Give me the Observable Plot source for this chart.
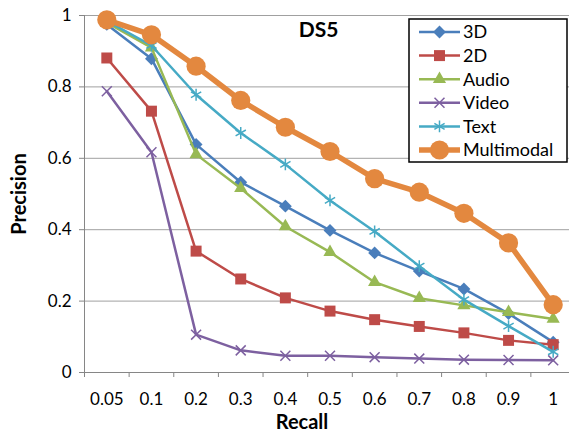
<!DOCTYPE html>
<html><head><meta charset="utf-8">
<script src="https://cdn.jsdelivr.net/npm/d3@7"></script>
<script src="https://cdn.jsdelivr.net/npm/@observablehq/plot@0.6"></script>
<style>
body{margin:0;background:#fff;overflow:hidden}
svg{font-family:Lato,"Open Sans",sans-serif}
</style>
</head><body><div id="chart"></div>
<script>
// ---- data ----
const recall = ["0.05","0.1","0.2","0.3","0.4","0.5","0.6","0.7","0.8","0.9","1"];
const yTicks = [0, 0.2, 0.4, 0.6, 0.8, 1];
const yTickLabels = ["0","0.2","0.4","0.6","0.8","1"];
const seriesNames = ["3D","2D","Audio","Video","Text","Multimodal"];
const p3D        = [0.975, 0.879, 0.639, 0.533, 0.466, 0.398, 0.335, 0.284, 0.234, 0.165, 0.085];
const p2D        = [0.881, 0.732, 0.340, 0.262, 0.209, 0.172, 0.148, 0.129, 0.111, 0.090, 0.078];
const pAudio     = [0.980, 0.910, 0.611, 0.516, 0.409, 0.337, 0.253, 0.208, 0.188, 0.169, 0.150];
const pVideo     = [0.788, 0.617, 0.106, 0.062, 0.047, 0.047, 0.043, 0.039, 0.036, 0.035, 0.034];
const pText      = [0.985, 0.916, 0.778, 0.671, 0.583, 0.482, 0.395, 0.298, 0.204, 0.130, 0.058];
const pMulti     = [0.988, 0.946, 0.858, 0.762, 0.687, 0.619, 0.543, 0.505, 0.446, 0.363, 0.190];

const seriesValues = [p3D, p2D, pAudio, pVideo, pText, pMulti];
const colors  = ["#4A7EBB", "#BE4B48", "#98B954", "#7D60A0", "#46AAC5", "#E3883F"];
const symbols = ["diamond2", "square", "triangle", "times", "asterisk", "circle"];
const d3Symbols = [d3.symbolDiamond2, d3.symbolSquare, d3.symbolTriangle, d3.symbolTimes, d3.symbolAsterisk, d3.symbolCircle];
const strokeSym = [false, false, false, true, true, false];
const radii   = [5.8, 6.2, 4.9, 4.6, 5.6, 9.6];
const widths  = [2.5, 2.5, 2.5, 2.5, 2.5, 5.5];

const rows = seriesNames.map((name, s) =>
  recall.map((r, i) => ({series: name, i, recall: r, precision: seriesValues[s][i]})));

const marks = [
  Plot.ruleY(yTicks.slice(1), {stroke: "#a0a0a0", strokeWidth: 1}),
  Plot.ruleX([-0.5], {y1: 0, y2: 1, stroke: "#868686", strokeWidth: 1}),
  Plot.ruleY([0], {stroke: "#868686", strokeWidth: 1}),
  Plot.axisX(d3.range(-0.5, 11, 1), {tickSize: 5, tickFormat: () => "", stroke: "#868686", label: null}),
  Plot.axisX(d3.range(0, 11), {tickSize: 0, tickPadding: 20, tickFormat: i => recall[i], fontSize: 17, fill: "#000", label: null}),
  Plot.axisY(yTicks, {tickSize: 5, tickPadding: 8, tickFormat: (d, i) => yTickLabels[i], fontSize: 17, fill: "#000", stroke: "#868686", label: null}),
];

rows.forEach((data, s) => {
  marks.push(Plot.line(data, {x: "i", y: "precision", stroke: colors[s], strokeWidth: widths[s]}));
  marks.push(Plot.dot(data, strokeSym[s]
    ? {x: "i", y: "precision", symbol: () => symbols[s], r: radii[s], stroke: colors[s], strokeWidth: 1.5, fill: "none"}
    : {x: "i", y: "precision", symbol: () => symbols[s], r: radii[s], fill: colors[s], stroke: "none"}));
});

marks.push(
  Plot.text(["Precision"], {frameAnchor: "left", rotate: -90, dx: -65, textAnchor: "middle", lineAnchor: "middle", fontWeight: "bold", fontSize: 20, fill: "#000"}),
  Plot.text(["Recall"], {frameAnchor: "bottom", dx: -25, dy: 50, textAnchor: "middle", lineAnchor: "middle", fontWeight: "bold", fontSize: 20, fill: "#000"}),
  Plot.text(["DS5"], {frameAnchor: "top-left", dx: 234, dy: 15, textAnchor: "middle", lineAnchor: "middle", fontWeight: "bold", fontSize: 21, fill: "#000"})
);

const chart = Plot.plot({
  width: 569, height: 433,
  marginTop: 15, marginBottom: 61, marginLeft: 84, marginRight: 0,
  x: {type: "linear", domain: [-0.5, 10.5], range: [84, 575], axis: null},
  y: {domain: [0, 1], axis: null},
  symbol: {type: "identity"},
  style: {fontFamily: "Lato, 'Open Sans', sans-serif", background: "#fff", overflow: "hidden"},
  marks
});
document.getElementById("chart").appendChild(chart);

// ---- legend (inside plot, top right) ----
const svg = d3.select(chart);
const lg = svg.append("g");
lg.append("rect").attr("x", 409).attr("y", 19).attr("width", 158).attr("height", 143)
  .attr("fill", "#fff").attr("stroke", "#000").attr("stroke-width", 1.5);
seriesNames.forEach((name, s) => {
  const y = 32 + s * 23.6;
  lg.append("line").attr("x1", 419).attr("x2", 460).attr("y1", y).attr("y2", y)
    .attr("stroke", colors[s]).attr("stroke-width", widths[s]);
  const sym = d3.symbol(d3Symbols[s], radii[s] * radii[s] * Math.PI)();
  const p = lg.append("path").attr("d", sym).attr("transform", `translate(439.5,${y})`);
  if (strokeSym[s]) p.attr("fill", "none").attr("stroke", colors[s]).attr("stroke-width", 1.5);
  else p.attr("fill", colors[s]);
  lg.append("text").attr("x", 463).attr("y", y).attr("dy", "0.35em")
    .attr("text-anchor", "start").attr("font-size", 18).attr("fill", "#000").text(name);
});
</script>
</body></html>
